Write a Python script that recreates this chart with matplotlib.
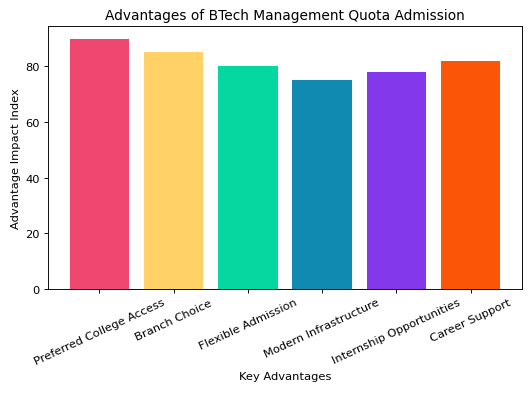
import matplotlib
matplotlib.use("Agg")
import matplotlib.pyplot as plt

categories = ["Preferred College Access", "Branch Choice", "Flexible Admission",
              "Modern Infrastructure", "Internship Opportunities", "Career Support"]
values = [90, 85, 80, 75, 78, 82]
colors = ["#EF476F", "#FFD166", "#06D6A0", "#118AB2", "#8338EC", "#FB5607"]

fig, ax = plt.subplots(figsize=(6.4, 4.77), dpi=82.8)
ax.bar(categories, values, color=colors)
ax.set_title("Advantages of BTech Management Quota Admission")
ax.set_xlabel("Key Advantages")
ax.set_ylabel("Advantage Impact Index")
plt.setp(ax.get_xticklabels(), rotation=25)
fig.subplots_adjust(left=48/530, right=522/530, top=1-27/395, bottom=1-290/395)
fig.savefig("out.png")
